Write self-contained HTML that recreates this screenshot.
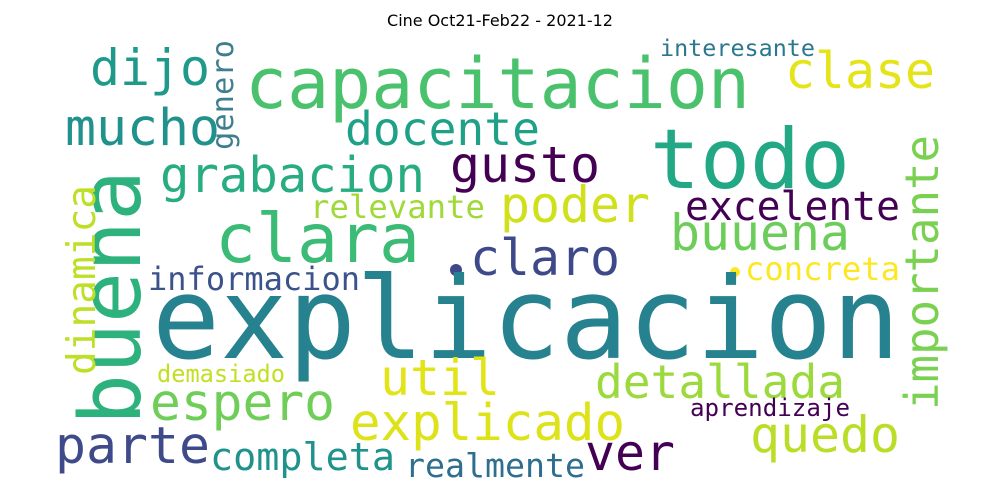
<!DOCTYPE html>
<html><head><meta charset="utf-8"><style>
html,body{margin:0;padding:0;background:#fff;}
svg{display:block;}
text{font-family:"DejaVu Sans Mono","Liberation Mono",monospace;}
</style></head><body>
<svg id="cloud" width="1000" height="500" viewBox="0 0 1000 500" xmlns="http://www.w3.org/2000/svg">
<rect width="1000" height="500" fill="#fff"/>
<text x="500" y="26" text-anchor="middle" style="font-family:'DejaVu Sans','Liberation Sans',sans-serif" font-size="16" fill="#000">Cine Oct21-Feb22 - 2021-12</text>
<circle cx="456" cy="270" r="6" fill="#3e4989"/>
<circle cx="735" cy="272" r="5" fill="#fde725"/>
</svg>
<script>
const words=["explicacion","capacitacion","todo","buena","clara","dijo","mucho","clase","docente","grabacion","gusto","importante","genero","interesante","poder","excelente","relevante","buuena","dinamica","claro","informacion","concreta","util","detallada","demasiado","espero","explicado","aprendizaje","quedo","parte","completa","ver","realmente"];
const sizes=[113,70,83,85,68,50,51,50,46,49,50,46,30,23,50,40,32,50,39,50,32,32,50,46,24,51,51,24,50,51,38,50,33];
const colors=["#26828e","#4ac16d","#22a884","#2db27d","#3bbb75","#1f9a8a","#21918c","#e5e419","#1fa188","#27ad81","#440154","#7ad151","#3e7f8e","#2a788e","#d0e11c","#440154","#a0da39","#6ccd5a","#bddf26","#3e4989","#3b528b","#fde725","#e2e418","#9bd93c","#c2df23","#6ece58","#dde318","#440154","#bade28","#3e4a89","#20928c","#440154","#2e6e8e"];
const layout=[[152,358,748,0],[245,108,505,0],[650,188,200,0],[140,425,255,1],[215,262,205,0],[90,85,120,0],[65,145,155,0],[785,88,150,0],[345,145,195,0],[160,192,265,0],[450,182,150,0],[938,410,275,1],[233,150,110,1],[660,56,155,0],[500,222,150,0],[685,220,215,0],[310,218,175,0],[670,250,180,0],[95,375,190,1],[470,275,150,0],[148,290,212,0],[745,280,155,0],[380,395,120,0],[595,398,250,0],[157,382,128,0],[150,420,185,0],[350,440,275,0],[690,416,160,0],[750,452,150,0],[55,463,155,0],[210,470,185,0],[585,470,90,0],[405,477,180,0]];
const svg=document.getElementById('cloud');
const NS="http://www.w3.org/2000/svg";
words.forEach((w,i)=>{
  const t=document.createElementNS(NS,'text');
  const L=layout[i];
  
  
  t.setAttribute('font-size',sizes[i]);
  t.setAttribute('fill',colors[i]);
  t.setAttribute('textLength',L[2]);
  t.setAttribute('lengthAdjust','spacingAndGlyphs');
  if(L[3]){t.setAttribute('transform','translate('+L[0]+','+L[1]+') rotate(-90)');t.setAttribute('x',0);t.setAttribute('y',0);}
  else{t.setAttribute('x',L[0]);t.setAttribute('y',L[1]);}
  t.textContent=w;
  svg.appendChild(t);
});
</script>
</body></html>
